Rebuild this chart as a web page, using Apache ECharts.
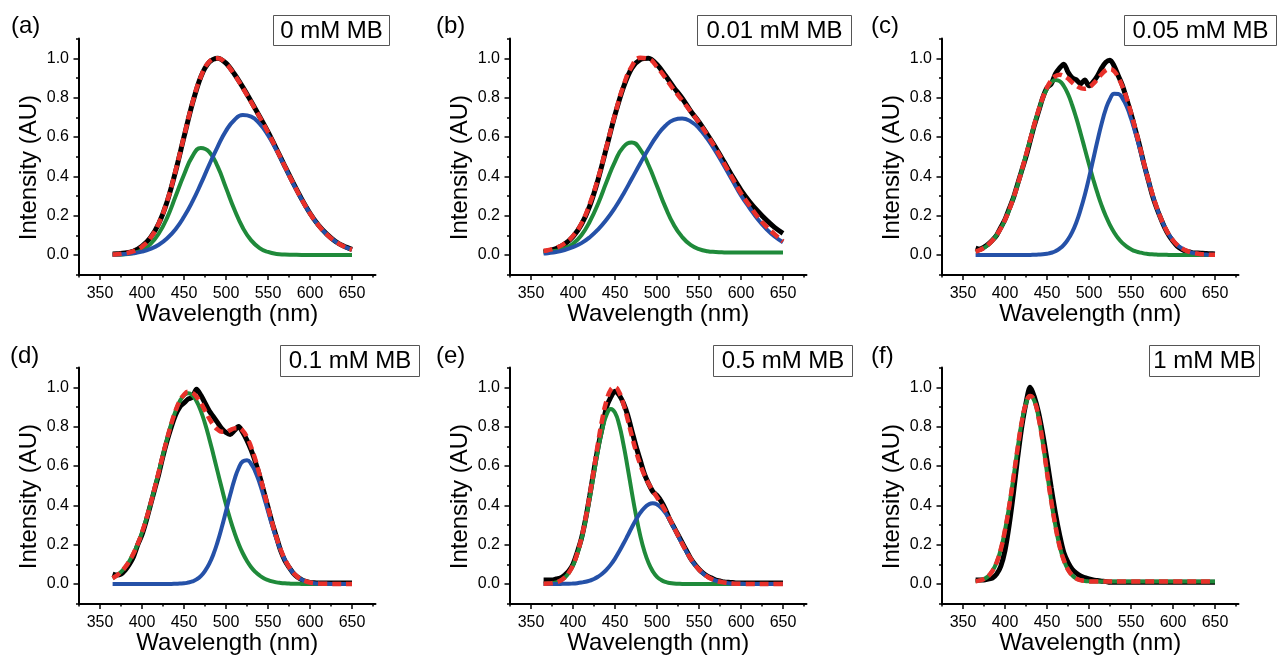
<!DOCTYPE html>
<html><head><meta charset="utf-8">
<script src="https://cdn.jsdelivr.net/npm/echarts@6/dist/echarts.min.js"></script>
<style>html,body{margin:0;padding:0;background:#fff}#c{width:1278px;height:657px}</style>
</head><body><div id="c"></div>
<script>
// Wavelength grids (nm)
const wl10 = [365,370,380,390,400,410,420,430,440,450,460,470,480,490,500,510,520,530,540,550,560,570,580,590,600,610,620,630,640,650];
const wl5 = [365,370,375,380,385,390,395,400,405,410,415,420,425,430,435,440,445,450,455,460,465,470,475,480,485,490,495,500,505,510,515,520,525,530,535,540,545,550,555,560,565,570,575,580,585,590,595,600,605,610,615,620,625,630,635,640,645,650];

// Tick values / labels
const xMajor = [350,400,450,500,550,600,650];
const xMinor = [325,350,375,400,425,450,475,500,525,550,575,600,625,650,675];
const yMajor = [0,0.2,0.4,0.6,0.8,1.0];
const yMinor = [-0.1,0,0.1,0.2,0.3,0.4,0.5,0.6,0.7,0.8,0.9,1.0,1.1];
const panelLetters = ['(a)','(b)','(c)','(d)','(e)','(f)'];
const panelLabels = ['0 mM MB','0.01 mM MB','0.05 mM MB','0.1 mM MB','0.5 mM MB','1 mM MB'];

// (a) 0 mM MB  (on wl10)
const aBlack = [0.005,0.006,0.010,0.020,0.045,0.088,0.160,0.272,0.425,0.600,0.770,0.905,0.980,1.000,0.975,0.920,0.853,0.780,0.704,0.625,0.540,0.452,0.366,0.285,0.212,0.152,0.106,0.070,0.045,0.028];
const aFit   = [0.002,0.003,0.009,0.019,0.042,0.086,0.161,0.275,0.429,0.602,0.772,0.905,0.982,1.000,0.972,0.917,0.849,0.777,0.702,0.624,0.538,0.451,0.364,0.283,0.211,0.151,0.104,0.069,0.044,0.027];
const aGreen = [0.001,0.001,0.004,0.010,0.025,0.055,0.109,0.190,0.298,0.408,0.501,0.544,0.524,0.450,0.341,0.231,0.138,0.074,0.035,0.015,0.005,0.002,0.001,0,0,0,0,0,0,0];
const aBlue  = [0.001,0.002,0.005,0.009,0.017,0.031,0.052,0.085,0.131,0.194,0.271,0.361,0.458,0.550,0.631,0.686,0.711,0.703,0.667,0.609,0.533,0.449,0.363,0.283,0.211,0.151,0.104,0.069,0.044,0.027];

// (b) 0.01 mM MB  (on wl10)
const bBlack = [0.015,0.020,0.032,0.055,0.093,0.155,0.250,0.385,0.548,0.712,0.852,0.950,0.993,1.000,0.968,0.912,0.852,0.797,0.732,0.676,0.612,0.545,0.472,0.398,0.330,0.272,0.222,0.178,0.140,0.110];
const bFit   = [0.021,0.024,0.036,0.058,0.097,0.160,0.260,0.392,0.552,0.715,0.859,0.959,1.002,0.996,0.956,0.900,0.840,0.785,0.730,0.674,0.609,0.540,0.465,0.389,0.314,0.252,0.193,0.145,0.106,0.068];
const bGreen = [0.014,0.015,0.021,0.033,0.057,0.100,0.170,0.262,0.372,0.475,0.549,0.572,0.537,0.456,0.350,0.243,0.153,0.091,0.051,0.030,0.019,0.015,0.013,0.012,0.012,0.012,0.012,0.012,0.012,0.012];
const bBlue  = [0.007,0.009,0.015,0.025,0.040,0.060,0.090,0.130,0.180,0.240,0.310,0.387,0.465,0.540,0.606,0.657,0.687,0.694,0.679,0.644,0.590,0.525,0.452,0.377,0.302,0.240,0.181,0.133,0.094,0.065];

// (c) 0.05 mM MB  (on wl5)
const cBlack = [0.035,0.030,0.040,0.055,0.075,0.100,0.140,0.180,0.235,0.290,0.360,0.430,0.500,0.580,0.660,0.730,0.800,0.850,0.870,0.920,0.950,0.970,0.930,0.900,0.890,0.870,0.890,0.860,0.880,0.910,0.950,0.980,0.990,0.960,0.910,0.860,0.790,0.720,0.640,0.560,0.470,0.390,0.310,0.245,0.190,0.140,0.100,0.070,0.045,0.030,0.020,0.015,0.010,0.010,0.008,0.007,0.006,0.005];
const cFit   = [0.017,0.025,0.036,0.052,0.073,0.101,0.135,0.178,0.229,0.289,0.356,0.430,0.508,0.587,0.665,0.737,0.800,0.851,0.887,0.909,0.916,0.910,0.897,0.877,0.860,0.849,0.845,0.853,0.870,0.894,0.919,0.939,0.945,0.934,0.901,0.855,0.795,0.723,0.643,0.560,0.474,0.393,0.317,0.250,0.192,0.144,0.104,0.074,0.051,0.035,0.023,0.015,0.009,0.006,0.003,0.002,0.001,0.001];
const cGreen = [0.017,0.025,0.036,0.052,0.073,0.101,0.135,0.178,0.229,0.289,0.356,0.430,0.508,0.587,0.664,0.735,0.797,0.845,0.876,0.890,0.884,0.859,0.818,0.761,0.694,0.619,0.540,0.461,0.385,0.315,0.252,0.198,0.152,0.114,0.083,0.060,0.042,0.029,0.019,0.013,0.008,0.005,0.003,0.002,0.001,0.001,0,0,0,0,0,0,0,0,0,0,0,0];
const cBlue  = [0,0,0,0,0,0,0,0,0,0,0,0,0,0,0.001,0.002,0.003,0.006,0.011,0.019,0.032,0.051,0.079,0.116,0.166,0.230,0.305,0.392,0.485,0.579,0.667,0.741,0.793,0.820,0.818,0.795,0.753,0.694,0.624,0.547,0.466,0.388,0.314,0.248,0.191,0.143,0.104,0.074,0.051,0.035,0.023,0.015,0.009,0.006,0.003,0.002,0.001,0.001];

// (d) 0.1 mM MB  (on wl5)
const dBlack = [0.050,0.045,0.050,0.070,0.100,0.140,0.200,0.250,0.320,0.400,0.480,0.560,0.650,0.730,0.800,0.860,0.900,0.920,0.940,0.950,0.990,0.960,0.920,0.880,0.850,0.820,0.790,0.770,0.760,0.780,0.800,0.770,0.730,0.680,0.620,0.550,0.470,0.390,0.310,0.240,0.170,0.120,0.085,0.055,0.035,0.022,0.013,0.008,0.006,0.005,0.005,0.005,0.005,0.005,0.005,0.005,0.005,0.005];
const dFit   = [0.029,0.043,0.061,0.085,0.117,0.156,0.204,0.262,0.329,0.404,0.486,0.571,0.657,0.740,0.816,0.881,0.931,0.962,0.977,0.972,0.952,0.920,0.882,0.842,0.808,0.785,0.774,0.774,0.782,0.791,0.792,0.779,0.746,0.695,0.631,0.556,0.473,0.390,0.310,0.238,0.176,0.126,0.087,0.057,0.037,0.022,0.013,0.007,0.004,0.002,0.001,0.001,0,0,0,0,0,0];
const dGreen = [0.029,0.043,0.061,0.085,0.117,0.156,0.204,0.262,0.329,0.404,0.486,0.571,0.657,0.740,0.816,0.880,0.929,0.959,0.970,0.959,0.929,0.880,0.816,0.740,0.657,0.571,0.486,0.404,0.329,0.262,0.204,0.156,0.117,0.085,0.061,0.043,0.029,0.020,0.013,0.008,0.005,0.003,0.002,0.001,0.001,0,0,0,0,0,0,0,0,0,0,0,0,0];
const dBlue  = [0,0,0,0,0,0,0,0,0,0,0,0,0,0,0,0.001,0.002,0.003,0.007,0.013,0.023,0.040,0.066,0.102,0.151,0.214,0.288,0.370,0.453,0.529,0.588,0.623,0.629,0.610,0.570,0.513,0.444,0.370,0.297,0.230,0.171,0.123,0.085,0.056,0.036,0.022,0.013,0.007,0.004,0.002,0.001,0.001,0,0,0,0,0,0];

// (e) 0.5 mM MB  (on wl5)
const eBlack = [0.020,0.020,0.020,0.025,0.030,0.045,0.065,0.100,0.160,0.230,0.330,0.450,0.580,0.700,0.800,0.900,0.950,0.980,0.960,0.920,0.860,0.780,0.700,0.630,0.560,0.510,0.470,0.450,0.420,0.380,0.330,0.290,0.250,0.210,0.170,0.130,0.100,0.075,0.055,0.040,0.030,0.020,0.015,0.010,0.008,0.007,0.005,0.005,0.005,0.005,0.005,0.005,0.005,0.005,0.005,0.005,0.005,0.005];
const eFit   = [0.001,0.002,0.004,0.008,0.017,0.032,0.057,0.096,0.154,0.233,0.334,0.455,0.587,0.721,0.841,0.933,0.988,1.000,0.974,0.915,0.838,0.754,0.675,0.608,0.553,0.510,0.474,0.440,0.407,0.371,0.331,0.289,0.246,0.204,0.165,0.129,0.098,0.073,0.053,0.037,0.025,0.017,0.011,0.007,0.004,0.002,0.001,0.001,0,0,0,0,0,0,0,0,0,0];
const eGreen = [0.001,0.002,0.004,0.008,0.017,0.031,0.056,0.094,0.150,0.226,0.323,0.438,0.562,0.684,0.788,0.860,0.890,0.871,0.809,0.711,0.593,0.467,0.349,0.247,0.166,0.106,0.064,0.036,0.020,0.010,0.005,0.002,0.001,0,0,0,0,0,0,0,0,0,0,0,0,0,0,0,0,0,0,0,0,0,0,0,0,0];
const eBlue  = [0,0,0,0,0,0.001,0.001,0.002,0.004,0.007,0.011,0.017,0.025,0.037,0.053,0.073,0.098,0.129,0.165,0.204,0.245,0.287,0.326,0.361,0.387,0.404,0.410,0.404,0.387,0.361,0.326,0.287,0.245,0.204,0.165,0.129,0.098,0.073,0.053,0.037,0.025,0.017,0.011,0.007,0.004,0.002,0.001,0.001,0,0,0,0,0,0,0,0,0,0];

// (f) 1 mM MB  (on wl5; single-peak fit)
const fBlack = [0.020,0.020,0.020,0.025,0.030,0.050,0.090,0.170,0.300,0.460,0.640,0.800,0.920,1.000,0.950,0.870,0.760,0.630,0.490,0.360,0.250,0.160,0.110,0.075,0.055,0.040,0.032,0.025,0.020,0.017,0.014,0.012,0.008,0.008,0.008,0.008,0.008,0.008,0.008,0.008,0.008,0.008,0.008,0.008,0.008,0.008,0.008,0.008,0.008,0.008,0.008,0.008,0.008,0.008,0.008,0.008,0.008,0.008];
const fFit   = [0.014,0.018,0.025,0.039,0.066,0.109,0.176,0.274,0.396,0.539,0.689,0.824,0.917,0.956,0.930,0.845,0.718,0.567,0.423,0.296,0.192,0.121,0.073,0.044,0.027,0.019,0.015,0.013,0.012,0.012,0.012,0.012,0.012,0.012,0.012,0.012,0.012,0.012,0.012,0.012,0.012,0.012,0.012,0.012,0.012,0.012,0.012,0.012,0.012,0.012,0.012,0.012,0.012,0.012,0.012,0.012,0.012,0.012];
const fGreen = fFit;

const panels = [
  {black:aBlack, bx:wl10, fit:aFit, green:aGreen, blue:aBlue, fx:wl10},
  {black:bBlack, bx:wl10, fit:bFit, green:bGreen, blue:bBlue, fx:wl10},
  {black:cBlack, bx:wl5,  fit:cFit, green:cGreen, blue:cBlue, fx:wl5},
  {black:dBlack, bx:wl5,  fit:dFit, green:dGreen, blue:dBlue, fx:wl5},
  {black:eBlack, bx:wl5,  fit:eFit, green:eGreen, blue:eBlue, fx:wl5},
  {black:fBlack, bx:wl5,  fit:fFit, green:fGreen, blue:null,  fx:wl5}
];

const FONT = "'Liberation Sans', Arial, Helvetica, sans-serif";
const RED = '#e8302a', GREEN = '#1f8a3a', BLUE = '#2551a8';
const colLeft = [79, 510, 942], rowTop = [38.6, 367.6];
const XMIN = 325, XMAX = 678;
const W = 296.5, H = 236;
const zip = (xs, ys) => xs.map((x, i) => [x, ys[i]]);

const grid = [], xAxis = [], yAxis = [], series = [], graphic = [];
const boxes = [
  [273, 15, 116, 30], [697, 15, 154, 30], [1124, 15, 152, 30],
  [280, 345, 139, 31], [713, 345, 139, 31], [1149, 345, 110, 31]
];
const letterPos = [[11, 14], [436, 14], [871, 14], [10, 344], [436, 344], [871, 344]];
const axisLineStyle = {color: '#000', width: 2};

panels.forEach((p, i) => {
  const r = Math.floor(i / 3), c = i % 3;
  grid.push({left: colLeft[c], top: rowTop[r], width: W, height: H, containLabel: false});
  xAxis.push({
    gridIndex: i, type: 'value', min: XMIN, max: XMAX, interval: 25,
    name: 'Wavelength (nm)', nameLocation: 'middle', nameGap: 26,
    nameTextStyle: {fontFamily: FONT, fontSize: 24, color: '#000'},
    axisLine: {show: true, onZero: false, lineStyle: axisLineStyle},
    axisTick: {show: true, inside: false, length: 3, customValues: xMinor, lineStyle: {color: '#000', width: 1.5}},
    axisLabel: {margin: 11, fontFamily: FONT, fontSize: 16, color: '#000', customValues: xMajor,
      formatter: v => String(Math.round(v))},
    splitLine: {show: false}
  });
  xAxis.push({
    gridIndex: i, type: 'value', min: XMIN, max: XMAX, interval: 25, position: 'bottom',
    axisLine: {show: false, onZero: false},
    axisTick: {show: true, inside: false, length: 5.5, customValues: xMajor, lineStyle: {color: '#000', width: 1.5}},
    axisLabel: {show: false}, splitLine: {show: false}
  });
  yAxis.push({
    gridIndex: i, type: 'value', min: -0.1, max: 1.1, interval: 0.1,
    name: 'Intensity (AU)', nameLocation: 'middle', nameGap: 38, nameRotate: 90,
    nameTextStyle: {fontFamily: FONT, fontSize: 24, color: '#000', padding: [0, 22, 0, 0]},
    axisLine: {show: true, onZero: false, lineStyle: axisLineStyle},
    axisTick: {show: true, inside: false, length: 3, customValues: yMinor, lineStyle: {color: '#000', width: 1.5}},
    axisLabel: {margin: 10, fontFamily: FONT, fontSize: 16, color: '#000', customValues: yMajor,
      formatter: v => (Math.round(v * 10) / 10).toFixed(1)},
    splitLine: {show: false}
  });
  yAxis.push({
    gridIndex: i, type: 'value', min: -0.1, max: 1.1, interval: 0.1, position: 'left',
    axisLine: {show: false, onZero: false},
    axisTick: {show: true, inside: false, length: 5.5, customValues: yMajor, lineStyle: {color: '#000', width: 1.5}},
    axisLabel: {show: false}, splitLine: {show: false}
  });
  const common = {type: 'line', xAxisIndex: 2 * i, yAxisIndex: 2 * i, showSymbol: false, silent: true, animation: false};
  series.push(Object.assign({}, common, {name: 'data', data: zip(p.bx, p.black), smooth: 0.3, z: 1,
    lineStyle: {color: '#000', width: 5}}));
  series.push(Object.assign({}, common, {name: 'peak1', data: zip(p.fx, p.green), smooth: 0.5, z: 2,
    lineStyle: {color: GREEN, width: 4}}));
  if (p.blue) series.push(Object.assign({}, common, {name: 'peak2', data: zip(p.fx, p.blue), smooth: 0.5, z: 3,
    lineStyle: {color: BLUE, width: 4}}));
  series.push(Object.assign({}, common, {name: 'fit', data: zip(p.fx, p.fit), smooth: 0.5, z: 4,
    lineStyle: {color: RED, width: 4.5, type: [9, 5]}}));

  const b = boxes[i];
  graphic.push({type: 'rect', shape: {x: b[0] + 0.5, y: b[1] + 0.5, width: b[2], height: b[3]},
    style: {fill: '#fff', stroke: '#555', lineWidth: 1}, z: 10});
  graphic.push({type: 'text', x: b[0] + b[2] / 2 + 0.5, y: b[1] + b[3] / 2 + 1, z: 11,
    style: {text: panelLabels[i], font: '24px ' + FONT, fill: '#000',
      align: 'center', verticalAlign: 'middle', textAlign: 'center', textVerticalAlign: 'middle'}});
  const lp = letterPos[i];
  graphic.push({type: 'text', x: lp[0], y: lp[1], z: 11,
    style: {text: panelLetters[i], font: '24px ' + FONT, fill: '#000',
      align: 'left', verticalAlign: 'top', textAlign: 'left', textVerticalAlign: 'top'}});
});

const chart = echarts.init(document.getElementById('c'), null, {renderer: 'canvas'});
chart.setOption({backgroundColor: '#fff', animation: false, grid, xAxis, yAxis, series, graphic});
</script></body></html>
